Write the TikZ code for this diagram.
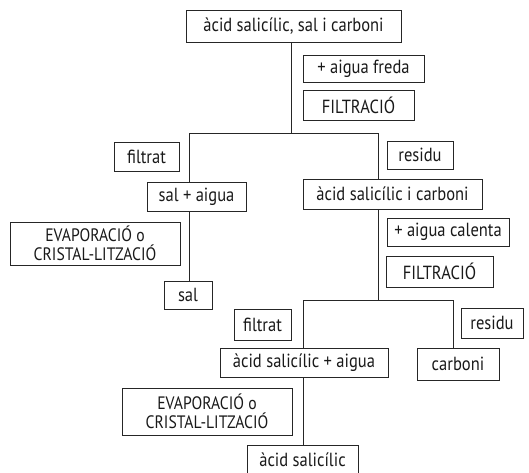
\documentclass[tikz,border=0pt]{standalone}
\usepackage{fontspec}
\setmainfont{PT Sans}[FakeStretch=0.87]
\begin{document}
\begin{tikzpicture}[x=1pt,y=-1pt,
  box/.style={draw=black!85, line width=0.9pt, inner sep=0pt, align=center,
    font=\fontsize{19}{17}\selectfont, text=black!90},
  twoline/.style={font=\fontsize{18}{19.5}\selectfont},
  link/.style={draw=black!85, line width=0.9pt}]
\useasboundingbox (0,0) rectangle (529,472);
% boxes (center, width, height)
\node[box, minimum width=215pt, minimum height=32pt] (top) at (293.5,26) {àcid salicílic, sal i carboni};
\node[box, minimum width=121pt, minimum height=27pt] (freda) at (363.5,68.5) {+ aigua freda};
\node[box, minimum width=111pt, minimum height=30pt] (filtA) at (358.5,105) {FILTRACIÓ};
\node[box, minimum width=65pt, minimum height=29pt] (filtratA) at (146.5,156.5) {filtrat};
\node[box, minimum width=66pt, minimum height=28pt] (residuA) at (420,155) {residu};
\node[box, minimum width=99pt, minimum height=29pt] (salaigua) at (196.5,196.5) {sal + aigua};
\node[box, minimum width=179pt, minimum height=30pt] (asic) at (392.5,194) {àcid salicílic i carboni};
\node[box, twoline, minimum width=170pt, minimum height=43pt] (evapA) at (95,243.5) {EVAPORACIÓ o\\CRISTAL-LITZACIÓ};
\node[box, minimum width=48pt, minimum height=28pt] (sal) at (188,295) {sal};
\node[box, minimum width=122pt, minimum height=28pt] (calenta) at (448,232) {+ aigua calenta};
\node[box, minimum width=107pt, minimum height=31pt] (filtB) at (439.5,271.5) {FILTRACIÓ};
\node[box, minimum width=57pt, minimum height=31pt] (filtratB) at (262.5,324.5) {filtrat};
\node[box, minimum width=62pt, minimum height=30pt] (residuB) at (492,323) {residu};
\node[box, minimum width=168pt, minimum height=29pt] (asaigua) at (304,362.5) {àcid salicílic + aigua};
\node[box, minimum width=82pt, minimum height=32pt] (carboni) at (458,364) {carboni};
\node[box, twoline, minimum width=170pt, minimum height=47pt] (evapB) at (207,411.5) {EVAPORACIÓ o\\CRISTAL-LITZACIÓ};
\node[box, minimum width=111pt, minimum height=30pt] (asal) at (302.5,460) {àcid salicílic};
% junctions
\coordinate (jA) at (291,133);
\coordinate (jAl) at (189,133);
\coordinate (jAr) at (378,133);
\coordinate (jB) at (378,300);
\coordinate (jBl) at (303,300);
\coordinate (jBr) at (453,300);
% connectors
\draw[link] (top.south -| jA) -- (jA);
\draw[link] (jAl) -- (jAr);
\draw[link] (jAl) -- (salaigua.north -| jAl);
\draw[link] (salaigua.south -| jAl) -- (sal.north -| jAl);
\draw[link] (jAr) -- (asic.north -| jAr);
\draw[link] (asic.south -| jB) -- (jB);
\draw[link] (jBl) -- (jBr);
\draw[link] (jBl) -- (asaigua.north -| jBl);
\draw[link] (jBr) -- (carboni.north -| jBr);
\draw[link] (asaigua.south -| jBl) -- (asal.north -| jBl);
\end{tikzpicture}
\end{document}
